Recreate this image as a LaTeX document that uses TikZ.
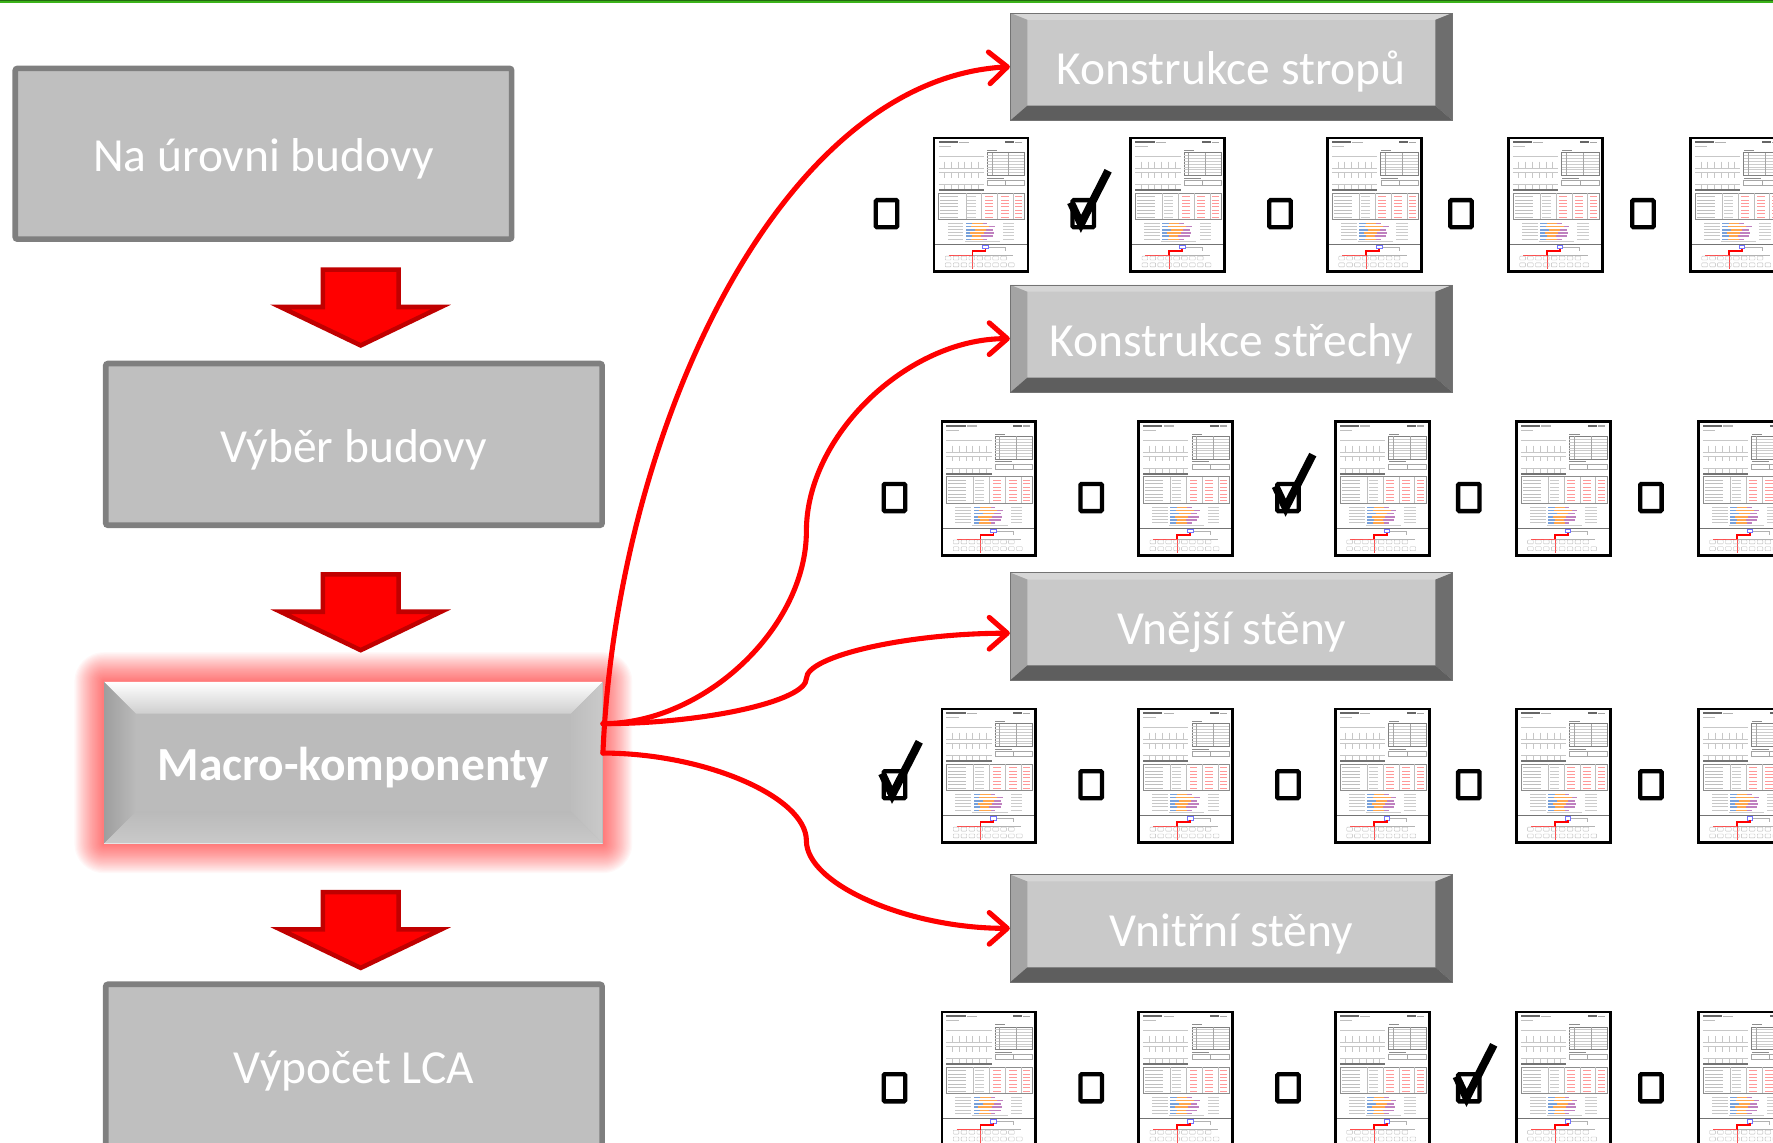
\documentclass[tikz,border=0pt]{standalone}
\usepackage{fontspec}
\setmainfont{Carlito}
\usetikzlibrary{arrows.meta,calc,backgrounds}

\definecolor{flatfill}{HTML}{BFBFBF}
\definecolor{flatline}{HTML}{7F7F7F}
\definecolor{bevface}{HTML}{C9C9C9}
\definecolor{bevtop}{HTML}{D6D6D6}
\definecolor{bevleft}{HTML}{A4A4A4}
\definecolor{bevright}{HTML}{6E6E6E}
\definecolor{bevbottom}{HTML}{5E5E5E}
\definecolor{arrowedge}{HTML}{C00000}
\definecolor{topbar}{HTML}{3CB31A}
\definecolor{macroface}{HTML}{BBBBBB}

\tikzset{
  labelfont/.style={font=\fontsize{42}{50}\selectfont, text=white,
    text height=32pt, text depth=0pt},
  flatbox/.style={labelfont, draw=flatline, line width=5pt, fill=flatfill,
    rounded corners=2pt, minimum width=439pt, inner sep=0pt},
  sectionbox/.style={labelfont, fill=bevface, draw=black!55, line width=0.8pt,
    minimum width=391pt, minimum height=95pt, inner sep=0pt,
    path picture={
      \path (path picture bounding box.north west) coordinate (pnw)
            (path picture bounding box.north east) coordinate (pne)
            (path picture bounding box.south west) coordinate (psw)
            (path picture bounding box.south east) coordinate (pse);
      \fill[bevtop] (pnw) -- (pne) -- ([xshift=-15pt,yshift=-6pt]pne) -- ([xshift=15pt,yshift=-6pt]pnw) -- cycle;
      \fill[bevleft] (pnw) -- ([xshift=15pt,yshift=-6pt]pnw) -- ([xshift=15pt,yshift=13pt]psw) -- (psw) -- cycle;
      \fill[bevright] (pne) -- ([xshift=-15pt,yshift=-6pt]pne) -- ([xshift=-15pt,yshift=13pt]pse) -- (pse) -- cycle;
      \fill[bevbottom] (psw) -- ([xshift=15pt,yshift=13pt]psw) -- ([xshift=-15pt,yshift=13pt]pse) -- (pse) -- cycle;
    }},
  macrobox/.style={font=\bfseries\fontsize{42}{50}\selectfont, text=white,
    text height=32pt, text depth=0pt,
    fill=macroface, minimum width=441pt, minimum height=143pt, inner sep=0pt,
    path picture={
      \path (path picture bounding box.north west) coordinate (pnw)
            (path picture bounding box.north east) coordinate (pne)
            (path picture bounding box.south west) coordinate (psw)
            (path picture bounding box.south east) coordinate (pse);
      \shade[top color=white, middle color=black!7, bottom color=black!19]
        (pnw) -- (pne) -- ([xshift=-28pt,yshift=-28pt]pne) -- ([xshift=28pt,yshift=-28pt]pnw) -- cycle;
      \shade[left color=black!38, right color=black!27]
        (pnw) -- ([xshift=28pt,yshift=-28pt]pnw) -- ([xshift=28pt,yshift=28pt]psw) -- (psw) -- cycle;
      \shade[left color=black!26, right color=black!21]
        (pne) -- ([xshift=-28pt,yshift=-28pt]pne) -- ([xshift=-28pt,yshift=28pt]pse) -- (pse) -- cycle;
      \shade[top color=black!27, bottom color=black!21]
        (psw) -- ([xshift=28pt,yshift=28pt]psw) -- ([xshift=-28pt,yshift=28pt]pse) -- (pse) -- cycle;
      \draw[black!10, line width=1.5pt] (psw) -- (pse);
    }},
  link/.style={draw=red, line width=4.5pt, line cap=round, line join=round,
    -{Straight Barb[length=16pt,width=28pt,round]}},
  cbox/.style={draw=black, line width=3.8pt, minimum width=19pt,
    minimum height=24pt, inner sep=0pt, rounded corners=1pt},
  tick/.style={draw=black, line width=7pt, line join=miter},
  downarr/.pic={
    \draw[fill=red, draw=arrowedge, line width=4pt, line join=miter]
      (-33.5,0) -- (33.5,0) -- (33.5,33) -- (71,33) -- (0,67)
      -- (-71,33) -- (-33.5,33) -- cycle;
  },
  sheet/.pic={
    \fill[white] (0,0) rectangle (83,118);
    % header line
    \fill[black!60] (4,3) rectangle (21,4.6);
    \fill[black!30] (22,3.2) rectangle (31,4.4);
    \fill[black!60] (63,3) rectangle (71,4.6);
    \fill[black!35] (72,3.2) rectangle (78,4.4);
    \fill[black!25] (4,7) rectangle (15,7.8);
    % section sketch
    \draw[black!22, line width=.3pt] (4,16) -- (44,16) (4,27) -- (44,27)
      (4,30.5) -- (44,30.5) (4,41) -- (44,41);
    \foreach \xx in {9,15,...,43}
      \draw[black!22, line width=.25pt] (\xx,21) -- (\xx,27) (\xx,30.5) -- (\xx,35) (\xx,41) -- (\xx,45);
    % layer table
    \fill[black!45] (47,10.6) rectangle (56,11.6);
    \draw[black!50, line width=.35pt] (47,13) rectangle (80,33);
    \foreach \yy in {15.5,18,...,30.5}
      \draw[black!20, line width=.25pt] (47,\yy) -- (80,\yy);
    \draw[black!35, line width=.25pt] (51,13) -- (51,33) (66,13) -- (66,33);
    \fill[black!45] (47,35) rectangle (62,36);
    \draw[black!35, line width=.25pt] (47,37.5) rectangle (80,42) (63,37.5) -- (63,42);
    % results table
    \fill[black!55] (4,45.4) rectangle (44,46.7);
    \draw[black!45, line width=.3pt] (4,48.5) rectangle (80,72);
    \foreach \xx in {28,42,56,70}
      \draw[black!25, line width=.25pt] (\xx,48.5) -- (\xx,72);
    \foreach \yy in {51.5,54.5,...,69.5} {
      \fill[black!25] (5.5,\yy) rectangle ++(16,0.8);
      \fill[black!20] (29.5,\yy) rectangle ++(8,0.8);
      \fill[red!40] (45,\yy) rectangle ++(7,0.8);
      \fill[red!40] (59,\yy) rectangle ++(7,0.8);
      \fill[red!40] (72,\yy) rectangle ++(6,0.8);
    }
    % bar chart
    \foreach \yy/\la/\lb/\lc in {75/6/9/4, 77.8/5/16/5, 80.6/8/10/6, 83.4/4/12/9, 86.2/6/8/10, 89/5/10/4} {
      \fill[black!22] (12,\yy) rectangle ++(14,0.9);
      \fill[cyan!50!blue!55] (28,\yy) rectangle ++(\la,1.3);
      \fill[orange!70] (28+\la,\yy) rectangle ++(\lb,1.3);
      \fill[violet!50] (28+\la+\lb,\yy) rectangle ++(\lc,1.3);
      \fill[black!20] (61,\yy) rectangle ++(10,0.8);
    }
    \fill[black!20] (27,91.5) rectangle (58,92.2);
    \draw[black!55, line width=.4pt] (1,94) -- (82,94);
    % component tree
    \draw[black!30, line width=.3pt] (48,96.5) -- (63,96.5) -- (63,100) (34,103.5) -- (70,103.5);
    \draw[blue!55, line width=.5pt] (43,95) rectangle (48,98);
    \draw[red, line width=1.3pt] (45.5,98) -- (45.5,100) -- (34,100) -- (34,104);
    \draw[red!70, line width=.4pt] (13,103.5) -- (34,103.5) (34,104) -- (34,116);
    \foreach \xx in {10,17,...,59}
      \draw[black!28, line width=.3pt, rounded corners=.6pt] (\xx,104.5) rectangle ++(5,3.5);
    \foreach \xx in {10,17,...,66}
      \draw[black!28, line width=.3pt, rounded corners=.6pt] (\xx,110.5) rectangle ++(5,3.5);
    \draw[black, line width=2.4pt] (0,0) rectangle (83,118);
  },
}

\begin{document}
\begin{tikzpicture}[x=1pt,y=-1pt]
\useasboundingbox (0,0) rectangle (1568,1010);
\begin{scope}
\clip (0,0) rectangle (1568,1010);

% top rule
\fill[topbar] (0,0) rectangle (1568,2.6);
\fill[topbar!60!black] (0,0) rectangle (1568,0.8);

% left column: process steps
\node[flatbox, minimum height=151pt] (lvl) at (233,136) {Na úrovni budovy};
\node[flatbox, minimum height=143pt] (pick) at (313,393) {Výběr budovy};
\node[macrobox] (macro) at (312.5,674.5) {Macro-komponenty};
\node[flatbox, minimum height=143pt] (lca) at (313,942) {Výpočet LCA};

% soft highlight around the active step
\begin{scope}[on background layer]
  \foreach \e in {1,...,26}
    \fill[red, opacity=0.026, rounded corners=\e]
      ($(macro.north west)+(-\e,-\e)$) rectangle ($(macro.south east)+(\e,\e)$);
\end{scope}

% block arrows between the steps
\pic (d1) at (319,238.5) {downarr};
\pic (d2) at (319,508) {downarr};
\pic (d3) at (319,789) {downarr};

% right column: component groups
\node[sectionbox] (r1) at (1089,59) {Konstrukce stropů};
\node[sectionbox] (r2) at (1089,299.5) {Konstrukce střechy};
\node[sectionbox] (r3) at (1089,554) {Vnější stěny};
\node[sectionbox] (r4) at (1089,821) {Vnitřní stěny};

% variant sheets with selection boxes
\foreach \r/\cy/\cx/\k in {1/189/784/2, 2/440/791/3, 3/694/791/1, 4/962/791/4} {
  \foreach \c/\dx in {1/0, 2/174, 3/348, 4/508, 5/669} {
    \node[cbox] (c\r\c) at (\cx+\dx,\cy) {};
    \pic (p\r\c) at (\cx+\dx+42,\cy-67) {sheet};
  }
  \draw[tick] (c\r\k.center) ++(-11,-10) -- ++(9,19) -- ++(24,-47);
}

% connectors from the active step
\coordinate (s1) at ($(macro.east)+(0,-34.5)$);
\coordinate (s2) at ($(macro.east)+(0,-8.5)$);
\coordinate (e3) at ($(r3.west)+(0,6)$);
\draw[link] (s2) .. controls +(12,-286) and +(-203,11) .. (r1.west);
\draw[link] (s1) .. controls +(90,0) and +(0,85) .. ($(s1)!0.5!(r2.west)$)
  .. controls +(0,-85) and +(-90,0) .. (r2.west);
\draw[link] (s1) .. controls +(90,0) and +(0,20) .. ($(s1)!0.5!(e3)$)
  .. controls +(0,-20) and +(-90,0) .. (e3);
\draw[link] (s2) .. controls +(90,0) and +(0,-38.75) .. ($(s2)!0.5!(r4.west)$)
  .. controls +(0,38.75) and +(-90,0) .. (r4.west);
\end{scope}
\end{tikzpicture}
\end{document}
